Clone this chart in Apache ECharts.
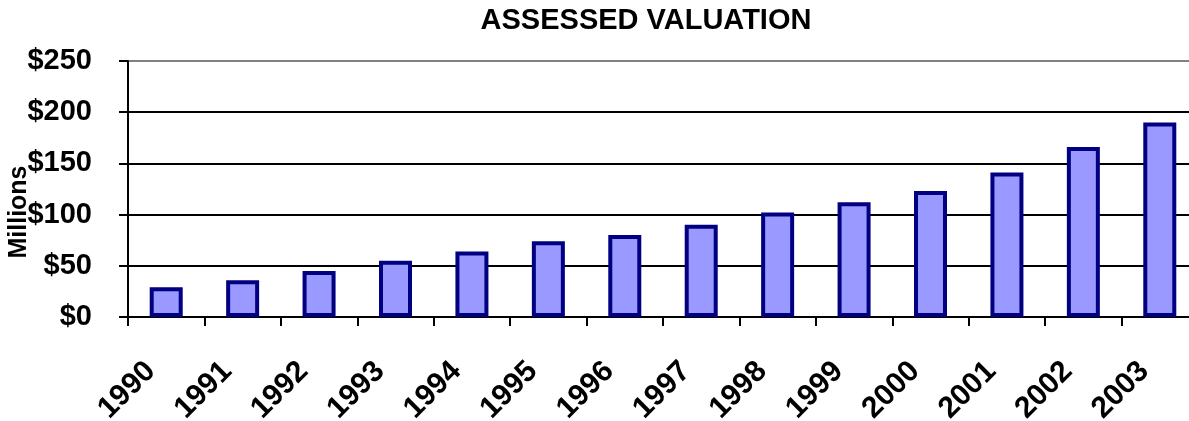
<!DOCTYPE html>
<html>
<head>
<meta charset="utf-8">
<script src="https://cdn.jsdelivr.net/npm/echarts@6/dist/echarts.min.js"></script>
<style>
  html, body { margin: 0; padding: 0; background: #fff; }
  #chart { width: 1189px; height: 421px; }
</style>
</head>
<body>
<div id="chart"></div>
<script>
const years = ['1990', '1991', '1992', '1993', '1994', '1995', '1996', '1997', '1998', '1999', '2000', '2001', '2002', '2003'];
const valuation = [29, 36, 45, 55, 64, 74, 80, 90, 102, 112, 123, 141, 166, 190];
const yTicks = [0, 50, 100, 150, 200, 250];

const font = 'Liberation Sans, Arial, sans-serif';
const chart = echarts.init(document.getElementById('chart'));

chart.setOption({
  animation: false,
  title: {
    text: 'ASSESSED VALUATION',
    left: 646,
    top: 21,
    padding: 0,
    textAlign: 'center',
    textVerticalAlign: 'middle',
    textStyle: { fontFamily: font, fontSize: 29, fontWeight: 'bold', color: '#000' }
  },
  grid: { left: 128, top: 61, width: 1070, bottom: 104, outerBoundsMode: 'none', containLabel: false },
  xAxis: {
    type: 'category',
    data: years,
    axisLine: { lineStyle: { color: '#000', width: 2 } },
    axisTick: { show: true, length: 9, lineStyle: { color: '#000', width: 2 } },
    axisLabel: {
      interval: 0,
      rotate: 45,
      align: 'right',
      verticalAlign: 'middle',
      margin: 34,
      padding: [0, 22, 48, 0],
      fontFamily: font,
      fontSize: 30,
      fontWeight: 'bold',
      color: '#000'
    }
  },
  yAxis: {
    type: 'value',
    min: yTicks[0],
    max: yTicks[yTicks.length - 1],
    interval: 50,
    name: 'Millions',
    nameLocation: 'middle',
    nameGap: 96,
    nameMoveOverlap: false,
    nameTextStyle: { fontFamily: font, fontSize: 25, fontWeight: 'bold', color: '#000', padding: [0, 46, 0, 0] },
    axisLine: { show: true, lineStyle: { color: '#000', width: 2 } },
    axisTick: { show: true, length: 9, lineStyle: { color: '#000', width: 2 } },
    axisLabel: {
      margin: 36,
      fontFamily: font,
      fontSize: 29,
      fontWeight: 'bold',
      color: '#000',
      formatter: v => '$' + v
    },
    splitLine: { show: true, lineStyle: { color: ['#000', '#000', '#000', '#000', '#000', '#808080'], width: 2 } }
  },
  series: [{
    type: 'bar',
    data: valuation,
    barWidth: 33,
    itemStyle: { color: '#9999ff', borderColor: '#000080', borderWidth: 4 }
  }]
});
</script>
</body>
</html>
